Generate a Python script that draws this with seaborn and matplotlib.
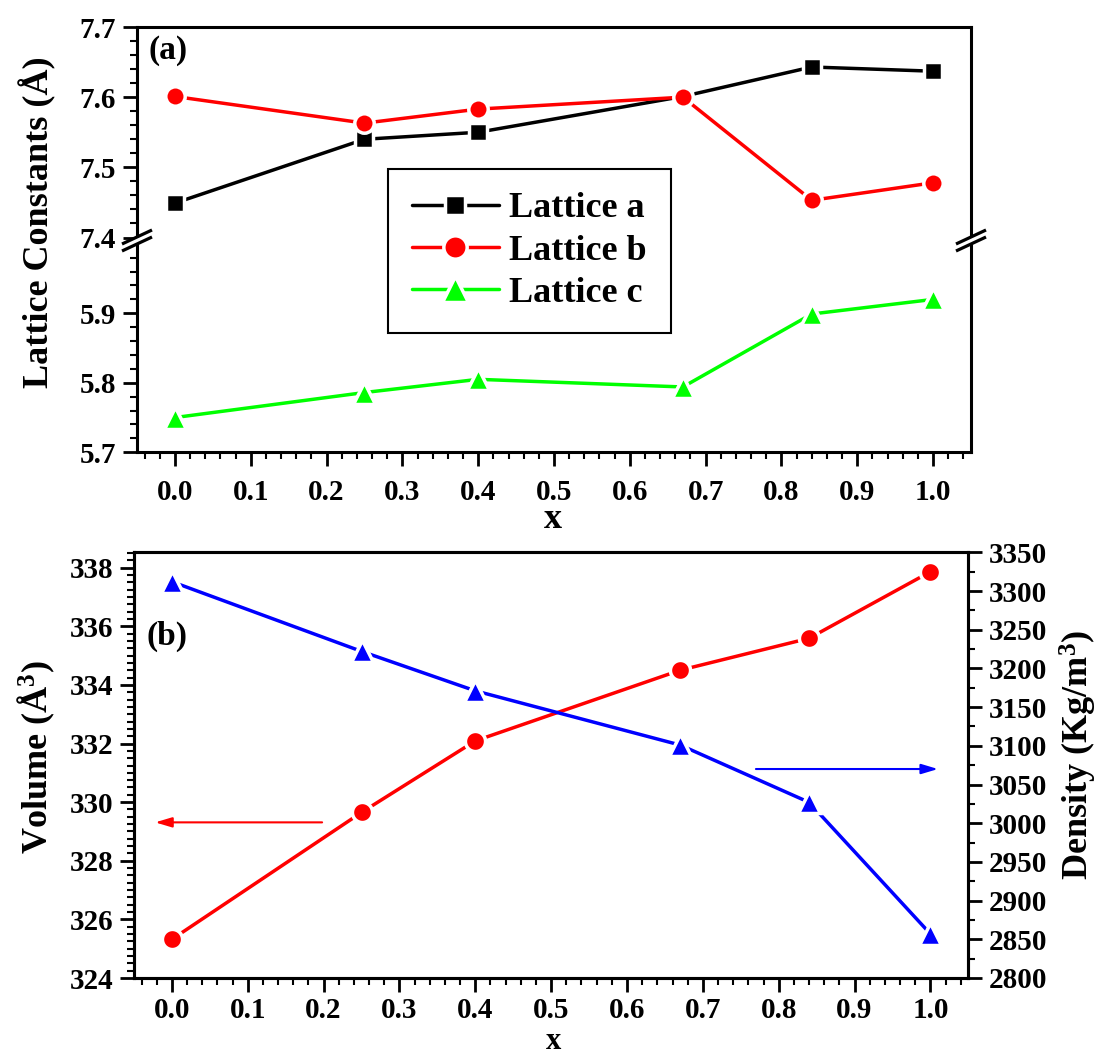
import matplotlib
matplotlib.use("Agg")
import matplotlib.pyplot as plt
from matplotlib.lines import Line2D
from matplotlib.ticker import MultipleLocator, FormatStrFormatter, FixedLocator
import seaborn as sns

# ---------------- data ----------------
x_vals = [0.0, 0.25, 0.40, 0.67, 0.84, 1.00]
lattice_a = [7.449, 7.540, 7.550, 7.601, 7.643, 7.637]
lattice_b = [7.601, 7.563, 7.583, 7.600, 7.453, 7.478]
lattice_c = [5.750, 5.786, 5.805, 5.794, 5.899, 5.920]
volume = [325.32, 329.65, 332.09, 334.50, 335.59, 337.86]
density = [3312, 3222, 3171, 3101, 3027, 2857]
x_ticks = [0.0, 0.1, 0.2, 0.3, 0.4, 0.5, 0.6, 0.7, 0.8, 0.9, 1.0]
series_labels = ["Lattice a", "Lattice b", "Lattice c"]

# ---------------- style ----------------
sns.set_style("ticks")
plt.rcParams["font.family"] = ["Liberation Serif", "DejaVu Serif"]
plt.rcParams["font.weight"] = "bold"
plt.rcParams["mathtext.fontset"] = "custom"
plt.rcParams["mathtext.rm"] = "Liberation Serif:bold"
plt.rcParams["mathtext.bf"] = "Liberation Serif:bold"
plt.rcParams["mathtext.it"] = "Liberation Serif:bold:italic"
for k in ["axes.edgecolor", "xtick.color", "ytick.color", "text.color", "axes.labelcolor"]:
    plt.rcParams[k] = "black"

W, H = 1100, 1057
fig = plt.figure(figsize=(W / 100, H / 100), dpi=100)
fig.patch.set_facecolor("white")


def rect(x0, y0, x1, y1):
    return [x0 / W, 1 - y1 / H, (x1 - x0) / W, (y1 - y0) / H]


def fx(px):
    return px / W


def fy(py):
    return 1 - py / H


BRK = 237.5
ax_up = fig.add_axes(rect(137, 27, 971, BRK))
ax_lo = fig.add_axes(rect(137, BRK, 971, 452.3))
ax_b = fig.add_axes(rect(134, 552.3, 968.3, 978))
ax_d = ax_b.twinx()

LW = 2.5
MEW = 2.5
common = dict(linewidth=LW, markeredgecolor="white", markeredgewidth=MEW, legend=False)

sns.lineplot(x=x_vals, y=lattice_a, ax=ax_up, color="black", marker="s", markersize=12.5,
             label=series_labels[0], **common)
sns.lineplot(x=x_vals, y=lattice_b, ax=ax_up, color="#ff0000", marker="o", markersize=14,
             label=series_labels[1], **common)
sns.lineplot(x=x_vals, y=lattice_c, ax=ax_lo, color="#00ff00", marker="^", markersize=16,
             label=series_labels[2], **common)

sns.lineplot(x=x_vals, y=volume, ax=ax_b, color="#ff0000", marker="o", markersize=14.5, **common)
sns.lineplot(x=x_vals, y=density, ax=ax_d, color="#0000ff", marker="^", markersize=16.5, **common)

# ---------------- axes setup ----------------
for ax in [ax_up, ax_lo, ax_b, ax_d]:
    ax.set_xlim(-0.05, 1.05)
    ax.set_xlabel("")
    ax.set_ylabel("")
    for s in ax.spines.values():
        s.set_linewidth(2.2)
        s.set_color("black")
    ax.tick_params(which="major", direction="out", length=10, width=2, labelsize=21)
    ax.tick_params(which="minor", direction="out", length=5, width=1.5)
    ax.tick_params(top=False, which="both")

ax_up.set_ylim(7.4, 7.7)
ax_up.yaxis.set_major_locator(FixedLocator([7.4, 7.5, 7.6, 7.7]))
ax_up.yaxis.set_minor_locator(MultipleLocator(0.02))
ax_up.yaxis.set_major_formatter(FormatStrFormatter("%.1f"))
ax_up.tick_params(bottom=False, labelbottom=False, which="both")
ax_up.tick_params(right=False, which="both")
ax_up.spines["bottom"].set_visible(False)

ax_lo.set_ylim(5.7, 5.7 + (452.3 - BRK) / 695.0)
ax_lo.yaxis.set_major_locator(FixedLocator([5.7, 5.8, 5.9]))
ax_lo.yaxis.set_minor_locator(MultipleLocator(0.02))
ax_lo.yaxis.set_major_formatter(FormatStrFormatter("%.1f"))
ax_lo.tick_params(right=False, which="both")
ax_lo.spines["top"].set_visible(False)

for ax in [ax_lo, ax_b]:
    ax.xaxis.set_major_locator(FixedLocator(x_ticks))
    ax.xaxis.set_minor_locator(MultipleLocator(0.02))
    ax.xaxis.set_major_formatter(FormatStrFormatter("%.1f"))
ax_lo.tick_params(axis="x", which="major", pad=9)
ax_b.tick_params(axis="x", which="major", pad=4)
for ax in [ax_up, ax_lo, ax_b]:
    ax.tick_params(axis="y", which="major", pad=5)

ax_b.set_ylim(324, 324 + (978 - 552.3) / 29.31)
ax_b.yaxis.set_major_locator(MultipleLocator(2))
ax_b.yaxis.set_minor_locator(MultipleLocator(0.25))
ax_b.tick_params(right=False, which="both")

ax_d.set_ylim(2800, 3350)
ax_d.yaxis.set_major_locator(MultipleLocator(50))
ax_d.yaxis.set_minor_locator(MultipleLocator(25))
ax_d.tick_params(axis="y", which="major", pad=5)

for ax in [ax_up, ax_lo, ax_b, ax_d]:
    for lab in ax.get_xticklabels() + ax.get_yticklabels():
        lab.set_fontweight("bold")

# ---------------- arrows ----------------
ax_b.annotate("", xy=(-0.022, 329.31), xytext=(0.198, 329.31),
              arrowprops=dict(arrowstyle="-|>,head_length=1.0,head_width=0.3", color="#ff0000",
                              lw=1.5, mutation_scale=10, shrinkA=0, shrinkB=0))
ax_d.annotate("", xy=(1.01, 3070), xytext=(0.77, 3070),
              arrowprops=dict(arrowstyle="-|>,head_length=1.0,head_width=0.3", color="#0000ff",
                              lw=1.5, mutation_scale=10, shrinkA=0, shrinkB=0))

# ---------------- break marks ----------------
for xs in [137, 971]:
    fig.add_artist(Line2D([fx(xs - 15), fx(xs + 15)], [fy(BRK + 3 + 7), fy(BRK + 3 - 7)],
                          color="white", lw=5, solid_capstyle="butt"))
    for dy in (-3.5, 3.5):
        yc = BRK + 3 + dy
        fig.add_artist(Line2D([fx(xs - 15), fx(xs + 15)], [fy(yc + 7), fy(yc - 7)],
                              color="black", lw=2.3, solid_capstyle="butt"))

# ---------------- legend ----------------
h1, l1 = ax_up.get_legend_handles_labels()
h2, l2 = ax_lo.get_legend_handles_labels()
leg = fig.legend(h1 + h2, l1 + l2, loc="center", bbox_to_anchor=(fx(529.5), fy(251)),
                 frameon=True, fancybox=False, edgecolor="black", framealpha=1,
                 prop={"family": "Liberation Serif", "weight": "bold", "size": 26},
                 handlelength=2.4, handletextpad=0.3, labelspacing=0.25, borderpad=0.65,
                 borderaxespad=0, markerscale=1.2)
leg.get_frame().set_linewidth(1.5)

# ---------------- texts ----------------
fig.text(fx(168), fy(51), "(a)", ha="center", va="center", fontsize=24, fontweight="bold")
fig.text(fx(167), fy(636), "(b)", ha="center", va="center", fontsize=24, fontweight="bold")
fig.text(fx(38), fy(222), "Lattice Constants (Å)", rotation=90, ha="center", va="center",
         fontsize=26, fontweight="bold")
fig.text(fx(553), fy(519), "x", ha="center", va="center", fontsize=26, fontweight="bold")
fig.text(fx(553), fy(1056), "x", ha="center", va="bottom", fontsize=22, fontweight="bold")
fig.text(fx(36), fy(757), "Volume (Å$^{3}$)", rotation=90, ha="center", va="center",
         fontsize=26, fontweight="bold")
fig.text(fx(1078), fy(755), "Density (Kg/m$^{3}$)", rotation=90, ha="center", va="center",
         fontsize=26, fontweight="bold")

fig.savefig("out.png", dpi=100, facecolor="white")
